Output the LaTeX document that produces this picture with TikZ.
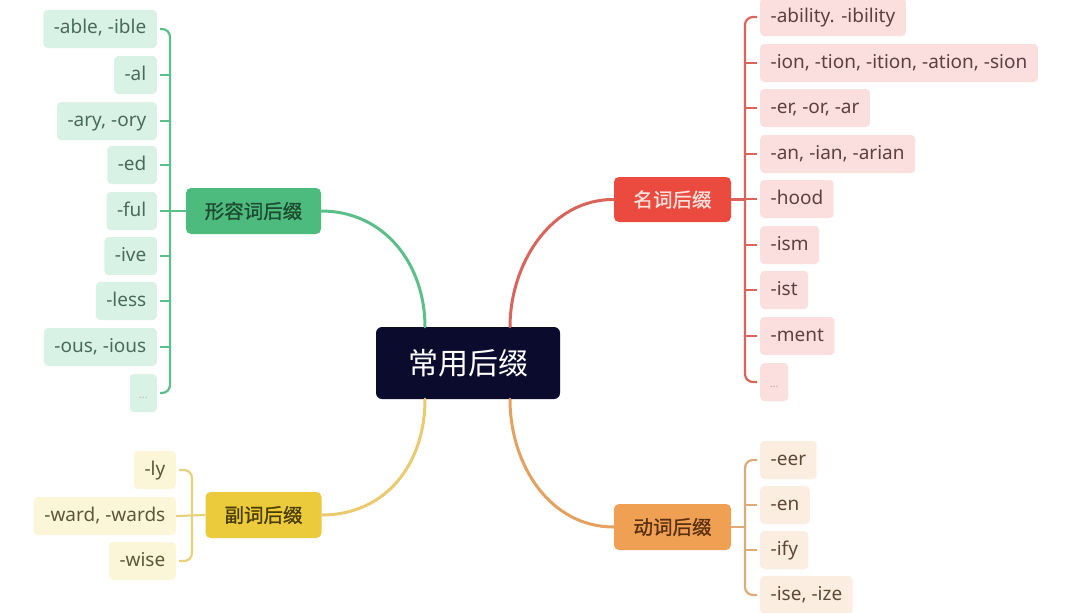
\documentclass[tikz,border=0pt]{standalone}
\usepackage{fontspec}
\setmainfont{Noto Sans}
\newfontfamily\cjk{Noto Sans CJK SC}
\newfontfamily\cjkm[FakeBold=1.2]{Noto Sans CJK SC}
\definecolor{gmain}{HTML}{4DBB7E}
\definecolor{gline}{HTML}{5CBF8A}
\definecolor{gleaf}{HTML}{D9F2E6}
\definecolor{gtext}{HTML}{4A6A5E}
\definecolor{gdark}{HTML}{1E4A30}
\definecolor{rmain}{HTML}{EB4B3F}
\definecolor{rline}{HTML}{D9645A}
\definecolor{rleaf}{HTML}{FBDEDE}
\definecolor{rtext}{HTML}{5E4040}
\definecolor{rlight}{HTML}{FDE0DC}
\definecolor{omain}{HTML}{F0A052}
\definecolor{oline}{HTML}{DDAA78}
\definecolor{oleaf}{HTML}{FBEEE1}
\definecolor{otext}{HTML}{5E4838}
\definecolor{odark}{HTML}{5A3010}
\definecolor{ymain}{HTML}{EBCB3B}
\definecolor{yline}{HTML}{E6D27A}
\definecolor{yleaf}{HTML}{FCF6D8}
\definecolor{ytext}{HTML}{5E5638}
\definecolor{ydark}{HTML}{4A3D00}
\definecolor{center}{HTML}{0B0B2E}
\begin{document}
\begin{tikzpicture}[x=1pt,y=-1pt,
  leaf/.style={rounded corners=4pt, minimum height=38pt, inner xsep=10.5pt,
    text height=13pt, text depth=3pt, font=\fontsize{19}{20}\selectfont},
  gleafs/.style={leaf, fill=gleaf, text=gtext, anchor=east},
  rleafs/.style={leaf, fill=rleaf, text=rtext, anchor=west},
  oleafs/.style={leaf, fill=oleaf, text=otext, anchor=west},
  yleafs/.style={leaf, fill=yleaf, text=ytext, anchor=east},
  mainnode/.style={rounded corners=5pt, minimum height=46pt,
    font=\cjkm\fontsize{19.5}{20}\selectfont},
  branch/.style={line width=3pt, line cap=round},
  bracket/.style={line width=2.2pt, rounded corners=8pt},
  tick/.style={line width=2.2pt},
  dots/.style={font=\fontsize{11}{11}\selectfont}
]
\useasboundingbox (0,0) rectangle (1080,613);
\fill[white] (0,0) rectangle (1080,613);

% center
\node[fill=center, rounded corners=6pt, minimum width=184pt, minimum height=72pt,
  text=white, font=\cjk\fontsize{30}{31}\selectfont] (c) at (468,363) {常用后缀};

% main nodes
\node[mainnode, fill=gmain, text=gdark, minimum width=135pt] (g) at (253.5,211) {形容词后缀};
\node[mainnode, fill=rmain, text=rlight, minimum width=117pt, minimum height=45pt] (r) at (672.5,199.5) {名词后缀};
\node[mainnode, fill=omain, text=odark, minimum width=117pt] (o) at (672.5,527) {动词后缀};
\node[mainnode, fill=ymain, text=ydark, minimum width=116pt] (y) at (263.5,515) {副词后缀};

% branch curves
\draw[branch, gline] (g.east) .. controls (385,211) and (425,265) .. (c.north west -| 425,0);
\draw[branch, rline] (r.west) .. controls (550,199) and (510,265) .. (c.north west -| 510,0);
\draw[branch, yline!90!orange] (c.south west -| 425,0) .. controls (425,465) and (385,515) .. (y.east);
\draw[branch, oline!80!orange] (c.south west -| 510,0) .. controls (510,465) and (550,527) .. (o.west);

% green leaves
\coordinate (gx) at (170,0);
\node[gleafs] (g1) at (157,29) {-able, -ible};
\node[gleafs] (g2) at (157,75) {-al};
\node[gleafs] (g3) at (157,121) {-ary, -ory};
\node[gleafs] (g4) at (157,165) {-ed};
\node[gleafs] (g5) at (157,211) {-ful};
\node[gleafs] (g6) at (157,256) {-ive};
\node[gleafs] (g7) at (157,301) {-less};
\node[gleafs] (g8) at (157,347) {-ous, -ious};
\node[gleafs, dots, text=gtext!45, minimum width=27pt, inner xsep=4pt] (g9) at (157,393) {...};
\draw[bracket, gline] ([xshift=3pt]g1.east) -- (g1.east -| gx) -- (g9.east -| gx) -- ([xshift=3pt]g9.east);
\foreach \i in {2,...,8} \draw[tick, gline] ([xshift=3pt]g\i.east) -- (g\i.east -| gx);
\draw[tick, gline] (g.west) -- (g.west -| gx);

% red leaves
\coordinate (rx) at (745,0);
\node[rleafs] (r1) at (760,17) {-ability. -ibility};
\node[rleafs] (r2) at (760,63) {-ion, -tion, -ition, -ation, -sion};
\node[rleafs] (r3) at (760,108) {-er, -or, -ar};
\node[rleafs] (r4) at (760,154) {-an, -ian, -arian};
\node[rleafs] (r5) at (760,199) {-hood};
\node[rleafs] (r6) at (760,245) {-ism};
\node[rleafs] (r7) at (760,290) {-ist};
\node[rleafs] (r8) at (760,336) {-ment};
\node[rleafs, dots, text=rtext!45, minimum width=28pt, inner xsep=4pt] (r9) at (760,382) {...};
\draw[bracket, rline] ([xshift=-3pt]r1.west) -- (r1.west -| rx) -- (r9.west -| rx) -- ([xshift=-3pt]r9.west);
\foreach \i in {2,...,8} \draw[tick, rline] ([xshift=-3pt]r\i.west) -- (r\i.west -| rx);
\draw[tick, rline] (r.east) -- (r.east -| rx);

% orange leaves
\coordinate (ox) at (745,0);
\node[oleafs] (o1) at (760,460) {-eer};
\node[oleafs] (o2) at (760,505) {-en};
\node[oleafs] (o3) at (760,550) {-ify};
\node[oleafs] (o4) at (760,595) {-ise, -ize};
\draw[bracket, oline] ([xshift=-3pt]o1.west) -- (o1.west -| ox) -- (o4.west -| ox) -- ([xshift=-3pt]o4.west);
\foreach \i in {2,3} \draw[tick, oline] ([xshift=-3pt]o\i.west) -- (o\i.west -| ox);
\draw[tick, oline] (o.east) -- (o.east -| ox);

% yellow leaves
\coordinate (yx) at (192,0);
\node[yleafs] (y1) at (176,470) {-ly};
\node[yleafs] (y2) at (176,516) {-ward, -wards};
\node[yleafs] (y3) at (176,561) {-wise};
\draw[bracket, yline] ([xshift=3pt]y1.east) -- (y1.east -| yx) -- (y3.east -| yx) -- ([xshift=3pt]y3.east);
\draw[tick, yline] (y.west) -- (y2.east);
\end{tikzpicture}
\end{document}
